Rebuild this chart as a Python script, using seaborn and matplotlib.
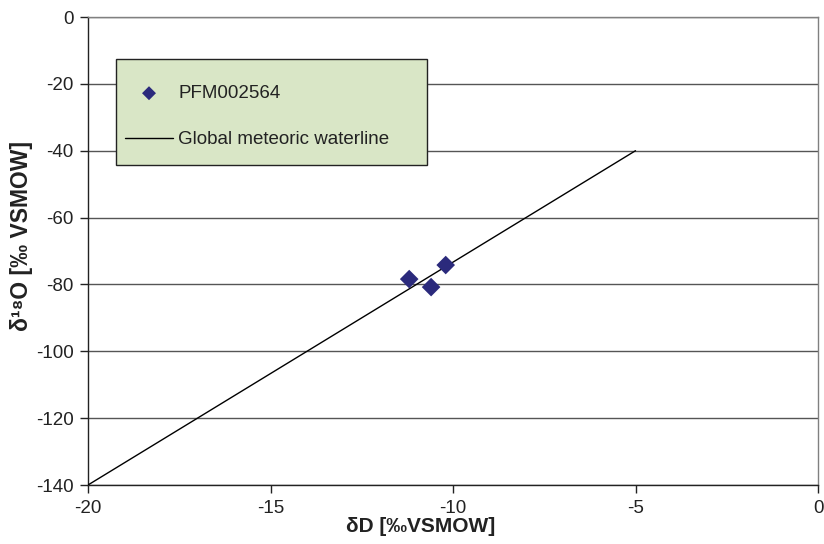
import matplotlib
matplotlib.use("Agg")
import matplotlib.pyplot as plt
from matplotlib.patches import Rectangle
import seaborn as sns
import pandas as pd

# Data
sample_dD = [-11.2, -10.6, -10.2]
sample_d18O = [-78.4, -80.8, -74.2]
gmwl_x = [-20, -5]
gmwl_y = [-140, -40]
x_ticks = [-20, -15, -10, -5, 0]
y_ticks = [0, -20, -40, -60, -80, -100, -120, -140]

sns.set_theme(style="white")
plt.rcParams['font.family'] = ['Liberation Sans', 'DejaVu Sans']

fig = plt.figure(figsize=(8.24, 5.44), dpi=100)
ax = fig.add_axes([88/824, 1-485/544, 730/824, 468/544])

df_s = pd.DataFrame({"x": sample_dD, "y": sample_d18O})
df_l = pd.DataFrame({"x": gmwl_x, "y": gmwl_y})

ax.set_xlim(-20, 0)
ax.set_ylim(-140, 0)
ax.set_yticks(y_ticks)
ax.set_xticks(x_ticks)
ax.yaxis.grid(True, color="#555555", linewidth=1.0)
ax.set_axisbelow(True)

sns.lineplot(data=df_l, x="x", y="y", ax=ax, color="black", linewidth=1.0,
             label="Global meteoric waterline", legend=False, zorder=3)
sns.scatterplot(data=df_s, x="x", y="y", ax=ax, marker="D", s=90,
                color="#2b2a7c", edgecolor="none", label="PFM002564",
                legend=False, zorder=4)

for s in ["left", "bottom"]:
    ax.spines[s].set_color("#222222")
    ax.spines[s].set_linewidth(1.0)
for s in ["top", "right"]:
    ax.spines[s].set_color("#808080")
    ax.spines[s].set_linewidth(1.0)

ax.tick_params(axis="both", which="both", direction="out", length=6,
               width=1, color="#222222", labelsize=13.5, labelcolor="#222222",
               left=True, bottom=True)
ax.tick_params(axis="y", pad=4.5)
ax.tick_params(axis="x", pad=5)
ax.set_xticklabels([str(t) for t in x_ticks])
ax.set_yticklabels([str(t) for t in y_ticks])

ax.set_xlabel("δD [‰VSMOW]", fontsize=15, fontweight="bold", color="#222222")
ax.xaxis.set_label_coords((421-88)/730, -(517-485)/468)
ax.set_ylabel("δ¹⁸O [‰ VSMOW]", fontsize=16.5, fontweight="bold", color="#222222")
ax.yaxis.set_label_coords((33-88)/730, 1-(236-17)/468)

# legend box
box = Rectangle((28/730, 1-(165-17)/468), 311/730, 106/468, transform=ax.transAxes,
                facecolor="#d9e6c6", edgecolor="#222222", linewidth=1.0, zorder=5)
ax.add_patch(box)

handles, labels = ax.get_legend_handles_labels()
order = [labels.index("PFM002564"), labels.index("Global meteoric waterline")]
leg = ax.legend([handles[i] for i in order], [labels[i] for i in order],
                loc="upper left",
                bbox_to_anchor=((125-88)/730, 1-(85-17)/468),
                fontsize=13.5, frameon=False, borderpad=0, borderaxespad=0,
                labelspacing=1.54, handlelength=2.56, handletextpad=0.27,
                markerscale=0.75)
leg.set_zorder(6)
for t in leg.get_texts():
    t.set_color("#222222")

fig.savefig("out.png", dpi=100)
